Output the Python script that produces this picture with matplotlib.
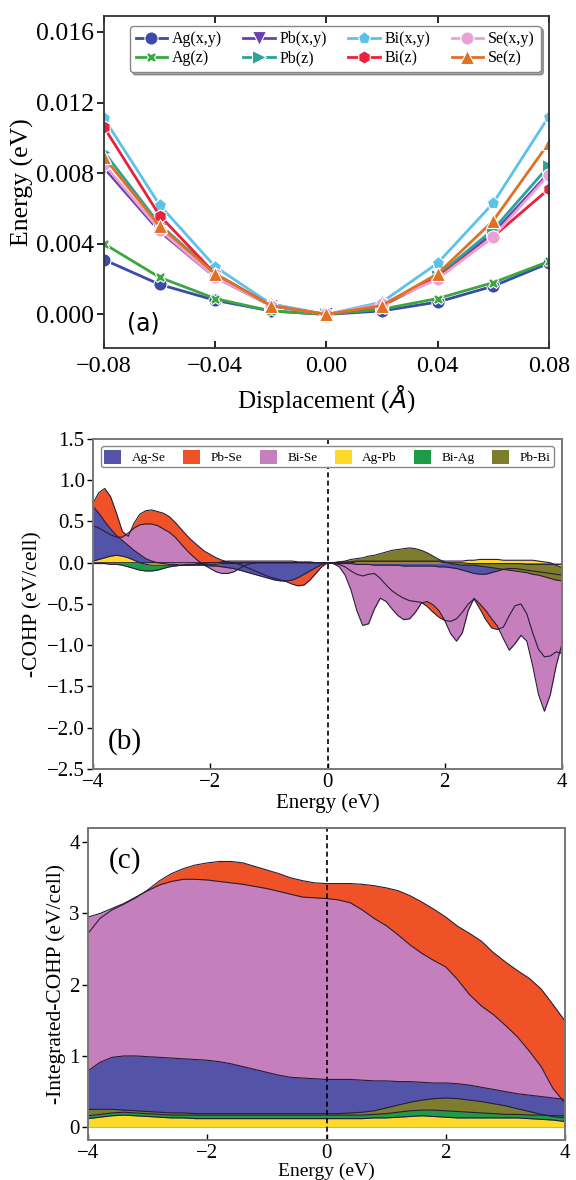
import matplotlib
matplotlib.use("Agg")
import matplotlib.pyplot as plt
import numpy as np
from matplotlib.patches import Patch
from matplotlib.ticker import FuncFormatter

plt.rcParams['font.family'] = ['Liberation Serif', 'DejaVu Serif']
plt.rcParams['axes.unicode_minus'] = True

# ---------------- (a) displacement energy ----------------
disp = [-0.08, -0.06, -0.04, -0.02, 0.00, 0.02, 0.04, 0.06, 0.08]
ag_xy = [0.0031, 0.0017, 0.0008, 0.0002, 0.0, 0.0002, 0.0007, 0.0016, 0.0029]
ag_z = [0.0040, 0.0021, 0.0009, 0.0002, 0.0, 0.0003, 0.0009, 0.0018, 0.0030]
pb_xy = [0.0083, 0.0047, 0.0021, 0.0005, 0.0, 0.0005, 0.0021, 0.0046, 0.0080]
pb_z = [0.0092, 0.0051, 0.0023, 0.0005, 0.0, 0.0005, 0.0022, 0.0048, 0.0084]
bi_xy = [0.0111, 0.0062, 0.0027, 0.0006, 0.0, 0.0007, 0.0029, 0.0063, 0.0112]
bi_z = [0.0106, 0.0056, 0.0023, 0.0005, 0.0, 0.0005, 0.0021, 0.0044, 0.0071]
se_xy = [0.0085, 0.0048, 0.0021, 0.0005, 0.0, 0.0006, 0.0020, 0.0044, 0.0079]
se_z = [0.0089, 0.0050, 0.0023, 0.0005, 0.0, 0.0005, 0.0023, 0.0053, 0.0097]

series_a = [
    ("Ag(x,y)", ag_xy, "#3b4ba8", "o"),
    ("Ag(z)", ag_z, "#3aa840", "X"),
    ("Pb(x,y)", pb_xy, "#6a40b0", "v"),
    ("Pb(z)", pb_z, "#2aa39a", ">"),
    ("Bi(x,y)", bi_xy, "#5cc2ea", "p"),
    ("Bi(z)", bi_z, "#e8213c", "h"),
    ("Se(x,y)", se_xy, "#e8a2d8", "o"),
    ("Se(z)", se_z, "#e07022", "^"),
]

# ---------------- (b) COHP ----------------
energy_b = np.linspace(-4, 4, 81)
cohp_ag_se = [0.68, 0.60, 0.50, 0.41, 0.33, 0.27, 0.21, 0.15, 0.10, 0.05,
              0.02, 0.00, -0.01, -0.02, -0.02, -0.03, -0.03, -0.03, -0.03, -0.03,
              -0.04, -0.04, -0.05, -0.06, -0.07, -0.09, -0.11, -0.13, -0.15, -0.17,
              -0.19, -0.21, -0.22, -0.22, -0.21, -0.18, -0.14, -0.10, -0.06, -0.02,
              0.00,
              -0.01, -0.01, -0.01, -0.01, -0.02, -0.02, -0.02, -0.03, -0.03, -0.03,
              -0.03, -0.03, -0.04, -0.04, -0.04, -0.04, -0.04, -0.04, -0.05, -0.05,
              -0.06, -0.07, -0.09, -0.11, -0.13, -0.14, -0.14, -0.12, -0.10, -0.08,
              -0.07, -0.07, -0.08, -0.09, -0.10, -0.11, -0.12, -0.13, -0.14, -0.15]
cohp_pb_se = [0.72, 0.85, 0.90, 0.80, 0.60, 0.38, 0.32, 0.48, 0.59, 0.63,
              0.64, 0.62, 0.60, 0.56, 0.49, 0.41, 0.33, 0.26, 0.20, 0.14,
              0.10, 0.06, 0.03, 0.01, 0.00, -0.02, -0.05, -0.08, -0.11, -0.14,
              -0.17, -0.19, -0.21, -0.23, -0.26, -0.28, -0.27, -0.21, -0.13, -0.05,
              0.00,
              -0.01, -0.02, -0.05, -0.10, -0.14, -0.16, -0.14, -0.13, -0.19, -0.27,
              -0.34, -0.39, -0.43, -0.46, -0.47, -0.48, -0.53, -0.60, -0.66, -0.70,
              -0.71, -0.68, -0.60, -0.50, -0.44, -0.56, -0.69, -0.79, -0.81, -0.78,
              -0.64, -0.52, -0.50, -0.62, -0.85, -1.05, -1.14, -1.13, -1.08, -1.10]
cohp_bi_se = [0.45, 0.42, 0.38, 0.34, 0.31, 0.31, 0.36, 0.42, 0.46, 0.47,
              0.47, 0.45, 0.41, 0.37, 0.31, 0.23, 0.15, 0.08, 0.02, -0.03,
              -0.07, -0.11, -0.13, -0.13, -0.11, -0.07, -0.03, -0.01, 0.00, 0.00,
              0.00, 0.00, 0.00, 0.00, 0.00, 0.00, 0.00, 0.00, 0.00, 0.00,
              0.00,
              -0.01, -0.05, -0.15, -0.33, -0.58, -0.76, -0.74, -0.56, -0.43, -0.47,
              -0.56, -0.64, -0.69, -0.68, -0.60, -0.49, -0.47, -0.51, -0.58, -0.70,
              -0.86, -0.95, -0.85, -0.58, -0.43, -0.50, -0.58, -0.68, -0.77, -0.92,
              -1.06, -0.98, -0.88, -0.95, -1.25, -1.60, -1.80, -1.60, -1.25, -0.98]
cohp_ag_pb = [0.02, 0.04, 0.06, 0.08, 0.09, 0.08, 0.06, 0.03, 0.00, -0.02,
              -0.03, -0.03, -0.03, -0.03, -0.03, -0.03, -0.03, -0.03, -0.02, -0.02,
              -0.02, -0.02, -0.01, -0.01, -0.01, -0.01, 0.00, 0.00, 0.00, 0.00,
              0.00, 0.00, 0.00, 0.00, 0.00, 0.00, 0.00, 0.00, 0.00, 0.00,
              0.00,
              0.00, 0.01, 0.01, 0.01, 0.02, 0.02, 0.02, 0.02, 0.02, 0.02,
              0.02, 0.02, 0.02, 0.02, 0.02, 0.02, 0.02, 0.02, 0.02, 0.02,
              0.02, 0.02, 0.02, 0.03, 0.03, 0.04, 0.04, 0.04, 0.04, 0.03,
              0.03, 0.03, 0.03, 0.03, 0.03, 0.02, 0.01, 0.00, -0.03, -0.06]
cohp_bi_ag = [-0.01, -0.01, -0.01, -0.02, -0.02, -0.03, -0.05, -0.07, -0.09, -0.10,
              -0.10, -0.09, -0.07, -0.05, -0.04, -0.03, -0.02, -0.02, -0.01, -0.01,
              0.00, 0.00, 0.00, 0.00, 0.00, 0.00, 0.00, 0.00, 0.00, 0.00,
              0.00, 0.00, 0.00, 0.00, 0.00, 0.00, 0.00, 0.00, 0.00, 0.00,
              0.00,
              0.00, 0.00, 0.00, 0.00, 0.01, 0.01, 0.01, 0.01, 0.01, 0.01,
              0.01, 0.01, 0.01, 0.01, 0.01, 0.01, 0.01, 0.01, 0.01, 0.00,
              0.00, 0.00, 0.00, -0.01, -0.01, -0.01, -0.01, -0.01, -0.01, -0.01,
              -0.01, -0.01, -0.01, -0.02, -0.02, -0.02, -0.02, -0.02, -0.02, -0.02]
cohp_pb_bi = [0.00, 0.00, 0.00, 0.00, 0.00, 0.00, 0.00, 0.00, 0.00, 0.00,
              0.00, 0.00, 0.00, 0.00, 0.00, 0.00, 0.00, 0.00, 0.00, 0.00,
              0.00, 0.00, 0.01, 0.02, 0.02, 0.02, 0.02, 0.02, 0.02, 0.02,
              0.02, 0.02, 0.02, 0.02, 0.02, 0.01, 0.01, 0.01, 0.00, 0.00,
              0.00,
              0.00, 0.01, 0.02, 0.04, 0.05, 0.06, 0.08, 0.09, 0.11, 0.13,
              0.15, 0.16, 0.17, 0.18, 0.17, 0.15, 0.12, 0.08, 0.04, 0.01,
              -0.01, -0.02, -0.03, -0.03, -0.03, -0.04, -0.05, -0.06, -0.07, -0.08,
              -0.09, -0.10, -0.11, -0.12, -0.14, -0.15, -0.17, -0.19, -0.21, -0.22]

# ---------------- (c) integrated COHP ----------------
energy_c = np.linspace(-4, 4, 41)
icohp_pb_se = [2.72, 2.93, 3.05, 3.13, 3.22, 3.33, 3.46, 3.56, 3.63, 3.68,
               3.71, 3.73, 3.73, 3.71, 3.66, 3.61, 3.56, 3.50, 3.46, 3.43,
               3.42, 3.42, 3.42, 3.41, 3.39, 3.36, 3.32, 3.25, 3.16, 3.06,
               2.95, 2.82, 2.72, 2.61, 2.45, 2.32, 2.20, 2.09, 1.94, 1.72, 1.49]
icohp_bi_se = [2.95, 3.00, 3.07, 3.14, 3.23, 3.32, 3.40, 3.45, 3.48, 3.48,
               3.47, 3.45, 3.43, 3.41, 3.38, 3.35, 3.31, 3.27, 3.23, 3.22,
               3.21, 3.19, 3.15, 3.05, 2.93, 2.83, 2.70, 2.56, 2.44, 2.34,
               2.25, 2.07, 1.86, 1.70, 1.58, 1.43, 1.27, 1.07, 0.85, 0.54, 0.34]
icohp_ag_se = [0.79, 0.91, 0.98, 1.00, 1.00, 0.99, 0.98, 0.97, 0.96, 0.95,
               0.94, 0.92, 0.89, 0.85, 0.81, 0.77, 0.73, 0.70, 0.69, 0.68,
               0.67, 0.67, 0.67, 0.66, 0.65, 0.65, 0.64, 0.64, 0.63, 0.62,
               0.62, 0.61, 0.59, 0.56, 0.53, 0.50, 0.47, 0.45, 0.43, 0.41, 0.39]
icohp_pb_bi = [0.25, 0.25, 0.25, 0.24, 0.23, 0.22, 0.21, 0.20, 0.20, 0.19,
               0.19, 0.19, 0.19, 0.19, 0.19, 0.19, 0.19, 0.19, 0.19, 0.19,
               0.19, 0.19, 0.20, 0.21, 0.23, 0.27, 0.31, 0.35, 0.38, 0.40,
               0.41, 0.40, 0.38, 0.36, 0.33, 0.30, 0.26, 0.22, 0.18, 0.15, 0.13]
icohp_bi_ag = [0.16, 0.18, 0.20, 0.21, 0.20, 0.19, 0.18, 0.17, 0.17, 0.17,
               0.17, 0.17, 0.17, 0.17, 0.17, 0.17, 0.17, 0.17, 0.17, 0.17,
               0.17, 0.17, 0.17, 0.17, 0.18, 0.19, 0.21, 0.23, 0.24, 0.24,
               0.23, 0.22, 0.21, 0.20, 0.19, 0.18, 0.18, 0.17, 0.17, 0.16, 0.16]
icohp_ag_pb = [0.12, 0.14, 0.16, 0.17, 0.16, 0.15, 0.14, 0.13, 0.13, 0.12,
               0.12, 0.12, 0.12, 0.12, 0.12, 0.12, 0.12, 0.12, 0.12, 0.12,
               0.12, 0.12, 0.12, 0.12, 0.13, 0.13, 0.14, 0.15, 0.16, 0.15,
               0.14, 0.13, 0.13, 0.13, 0.13, 0.13, 0.13, 0.12, 0.11, 0.10, 0.08]

pair_labels = ["Ag-Se", "Pb-Se", "Bi-Se", "Ag-Pb", "Bi-Ag", "Pb-Bi"]
pair_colors = {"Ag-Se": "#5353a8", "Pb-Se": "#f05228", "Bi-Se": "#c47fbc",
               "Ag-Pb": "#ffd92a", "Bi-Ag": "#1f9a48", "Pb-Bi": "#7e7d2e"}
draw_order = ["Pb-Se", "Bi-Se", "Ag-Se", "Pb-Bi", "Bi-Ag", "Ag-Pb"]

cohp = {"Ag-Se": cohp_ag_se, "Pb-Se": cohp_pb_se, "Bi-Se": cohp_bi_se,
        "Ag-Pb": cohp_ag_pb, "Bi-Ag": cohp_bi_ag, "Pb-Bi": cohp_pb_bi}
icohp = {"Ag-Se": icohp_ag_se, "Pb-Se": icohp_pb_se, "Bi-Se": icohp_bi_se,
         "Ag-Pb": icohp_ag_pb, "Bi-Ag": icohp_bi_ag, "Pb-Bi": icohp_pb_bi}

fig = plt.figure(figsize=(5.76, 11.8), dpi=100)
ax_a = fig.add_axes([0.1806, 0.7051, 0.772, 0.2813])
ax_b = fig.add_axes([0.1615, 0.3483, 0.8142, 0.2797])
ax_c = fig.add_axes([0.1528, 0.0339, 0.8281, 0.2644])

minus = lambda fmt: FuncFormatter(lambda v, p: (fmt % v).replace("-", "\u2212"))

# ---- panel a ----
for name, vals, col, mk in series_a:
    ms = 7.5 if mk == "X" else 9.5
    ax_a.plot(disp, vals, color=col, lw=2, marker=mk, ms=ms,
              markeredgecolor="white", markeredgewidth=0.8, label=name)
ax_a.set_xlim(-0.08, 0.08)
ax_a.set_ylim(-0.0019, 0.0169)
ax_a.set_xticks([-0.08, -0.04, 0.0, 0.04, 0.08])
ax_a.set_yticks([0.0, 0.004, 0.008, 0.012, 0.016])
ax_a.xaxis.set_major_formatter(minus("%.2f"))
ax_a.yaxis.set_major_formatter(minus("%.3f"))
ax_a.tick_params(axis="y", direction="out", length=5, width=1.2, labelsize=18.5,
                 pad=2)
ax_a.tick_params(axis="x", direction="in", top=True, length=5, width=1.2,
                 labelsize=17.5, pad=6)
for s in ax_a.spines.values():
    s.set_color("#333333")
    s.set_linewidth(1.3)
ax_a.set_xlabel(r"Displacement ($\mathit{\AA}$)", fontsize=18, labelpad=4)
ax_a.set_ylabel("Energy (eV)", fontsize=18.5, labelpad=2)
ax_a.text(0.088, 0.075, "(a)", transform=ax_a.transAxes, fontsize=17,
          family="DejaVu Sans", ha="center", va="center")
leg = ax_a.legend(ncol=4, loc="upper center", bbox_to_anchor=(0.52, 0.995),
                  fontsize=11.5, handlelength=2.0, columnspacing=1.3,
                  handletextpad=0.3, labelspacing=0.2, borderpad=0.35,
                  fancybox=True, shadow=True, framealpha=1)
leg.get_frame().set_edgecolor("#888888")

# ---- panels b and c ----
def draw_pairs(ax, xs, data):
    for key in draw_order:
        ax.fill_between(xs, 0, data[key], color=pair_colors[key], lw=0)
    for key in draw_order:
        ax.plot(xs, data[key], color="#2a1d3a", lw=0.8)
    ax.axvline(0, color="black", lw=1.2, ls=(0, (3, 2)))
    ax.set_xlim(-4, 4)
    ax.set_xticks([-4, -2, 0, 2, 4])
    ax.xaxis.set_major_formatter(minus("%d"))
    ax.tick_params(axis="y", direction="out", length=4, width=1.0, labelsize=15,
                   pad=2)
    ax.tick_params(axis="x", direction="in", length=4, width=1.0, labelsize=15,
                   pad=3)
    for s in ax.spines.values():
        s.set_color("#777777")
        s.set_linewidth(1.4)

draw_pairs(ax_b, energy_b, cohp)
ax_b.set_ylim(-2.5, 1.5)
ax_b.set_yticks([1.5, 1.0, 0.5, 0.0, -0.5, -1.0, -1.5, -2.0, -2.5])
ax_b.yaxis.set_major_formatter(minus("%.1f"))
ax_b.set_xlabel("Energy (eV)", fontsize=15, labelpad=1)
ax_b.set_ylabel("-COHP (eV/cell)", fontsize=15.5, labelpad=3)
ax_b.text(0.068, 0.082, "(b)", transform=ax_b.transAxes, fontsize=21,
          ha="center", va="center")
handles = [Patch(facecolor=pair_colors[k], edgecolor="none", label=k)
           for k in pair_labels]
leg_b = ax_b.legend(handles=handles, ncol=6, loc="upper center",
                    bbox_to_anchor=(0.003, 0.0, 0.994, 0.998), mode="expand",
                    fontsize=9.5, handlelength=1.3, handleheight=1.3,
                    handletextpad=0.8, borderpad=0.25, fancybox=True,
                    framealpha=1)
leg_b.get_frame().set_edgecolor("#888888")

draw_pairs(ax_c, energy_c, icohp)
ax_c.set_ylim(-0.18, 4.2)
ax_c.set_yticks([0, 1, 2, 3, 4])
ax_c.set_xlabel("Energy (eV)", fontsize=14, labelpad=0)
ax_c.set_ylabel("-Integrated-COHP (eV/cell)", fontsize=15.5, labelpad=2)
ax_c.text(0.078, 0.897, "(c)", transform=ax_c.transAxes, fontsize=21,
          ha="center", va="center")

fig.savefig("out.png", dpi=100)
